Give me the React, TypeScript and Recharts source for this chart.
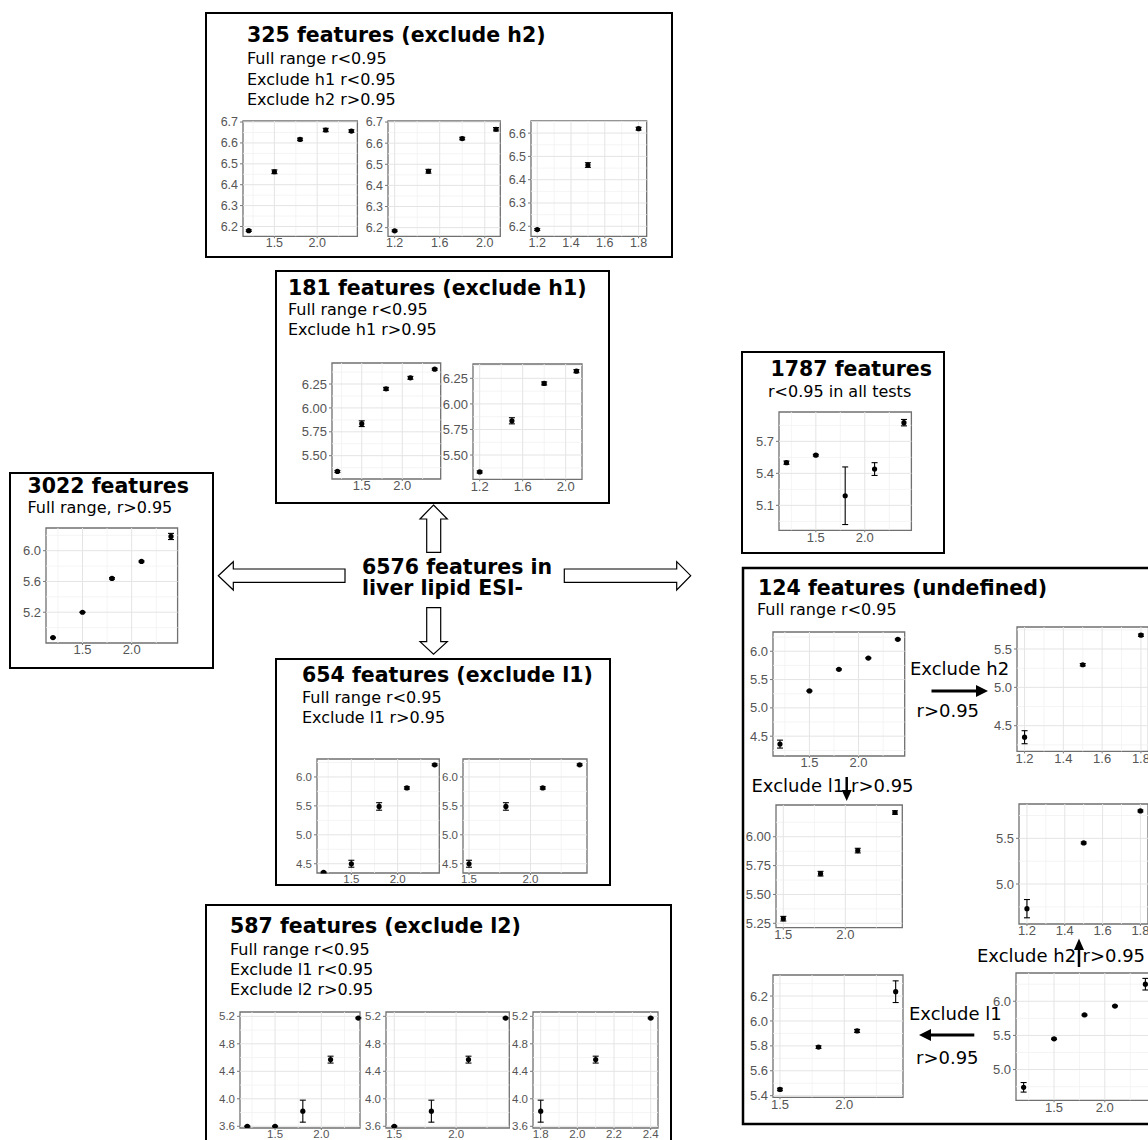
import {
  ScatterChart,
  Scatter,
  XAxis,
  YAxis,
  ErrorBar,
  ReferenceLine,
  ReferenceArea,
} from "recharts";

// dose levels (x) for each subset
const doseAll = [1.2, 1.5, 1.8, 2.1, 2.4];
const doseNoH1 = [1.2, 1.5, 1.8, 2.1];
const doseNoH2 = [1.2, 1.5, 1.8];
const doseNoL1 = [1.5, 1.8, 2.1, 2.4];
const doseNoL2 = [1.8, 2.1, 2.4];

// 325 features (exclude h2)
const h2Full = [6.18, 6.462, 6.617, 6.662, 6.657];
const h2FullErr = [0.004, 0.009, 0.006, 0.008, 0.006];
const h2NoH1 = [6.185, 6.467, 6.622, 6.666];
const h2NoH1Err = [0.004, 0.009, 0.006, 0.008];
const h2NoH2 = [6.186, 6.463, 6.619];
const h2NoH2Err = [0.004, 0.01, 0.006];

// 181 features (exclude h1)
const h1Full = [5.335, 5.835, 6.2, 6.315, 6.405];
const h1FullErr = [0.01, 0.03, 0.015, 0.015, 0.01];
const h1NoH1 = [5.335, 5.835, 6.2, 6.32];
const h1NoH1Err = [0.01, 0.03, 0.015, 0.015];

// 3022 features
const linFull = [4.87, 5.2, 5.64, 5.86, 6.185];
const linFullErr = [0.005, 0.005, 0.01, 0.008, 0.04];

// 1787 features
const nonFull = [5.5, 5.57, 5.19, 5.44, 5.875];
const nonFullErr = [0.015, 0.008, 0.27, 0.06, 0.03];

// 654 features (exclude l1)
const l1Full = [4.35, 4.5, 5.49, 5.81, 6.21];
const l1FullErr = [0.01, 0.06, 0.065, 0.02, 0.015];
const l1NoL1 = [4.5, 5.49, 5.81, 6.21];
const l1NoL1Err = [0.06, 0.065, 0.02, 0.015];

// 587 features (exclude l2)
const l2Full = [3.6, 3.6, 3.82, 4.57, 5.175];
const l2FullErr = [0.005, 0.005, 0.16, 0.05, 0.01];
const l2NoL1 = [3.6, 3.82, 4.57, 5.175];
const l2NoL1Err = [0.005, 0.16, 0.05, 0.01];
const l2NoL2 = [3.82, 4.57, 5.175];
const l2NoL2Err = [0.16, 0.05, 0.01];

// 124 features (undefined)
const undFull = [4.36, 5.3, 5.68, 5.88, 6.21];
const undFullErr = [0.07, 0.01, 0.01, 0.01, 0.01];
const undNoH2 = [4.35, 5.295, 5.68];
const undNoH2Err = [0.085, 0.015, 0.015];
const undNoL1 = [5.29, 5.68, 5.88, 6.21];
const undNoL1Err = [0.02, 0.02, 0.02, 0.015];
const und2Full = [4.74, 5.45, 5.8, 5.93, 6.25];
const und2FullErr = [0.07, 0.01, 0.01, 0.01, 0.085];
const und2NoH2 = [4.73, 5.45, 5.8];
const und2NoH2Err = [0.1, 0.01, 0.01];
const und2NoL1 = [5.45, 5.79, 5.92, 6.235];
const und2NoL1Err = [0.01, 0.01, 0.012, 0.087];

// tick labels
const xt15 = [1.5, 2.0];
const xt12to20 = [1.2, 1.6, 2.0];
const xt12to18 = [1.2, 1.4, 1.6, 1.8];
const xt18to24 = [1.8, 2.0, 2.2, 2.4];
const yt62to67 = [6.2, 6.3, 6.4, 6.5, 6.6, 6.7];
const yt62to66 = [6.2, 6.3, 6.4, 6.5, 6.6];
const yt550to625 = [5.5, 5.75, 6.0, 6.25];
const yt52to60 = [5.2, 5.6, 6.0];
const yt51to57 = [5.1, 5.4, 5.7];
const yt45to60 = [4.5, 5.0, 5.5, 6.0];
const yt36to52 = [3.6, 4.0, 4.4, 4.8, 5.2];
const yt45to55 = [4.5, 5.0, 5.5];
const yt525to600 = [5.25, 5.5, 5.75, 6.0];
const yt50to55 = [5.0, 5.5];
const yt50to60 = [5.0, 5.5, 6.0];
const yt54to62 = [5.4, 5.6, 5.8, 6.0, 6.2];

const YW = 34;
const MT = 10;
const MR = 4;
const XH = 18;
const tickFont = "Liberation Sans, Arial, sans-serif";

function minorOf(ticks: number[], domain: number[]) {
  const step = ticks[1] - ticks[0];
  const out: number[] = [];
  for (let v = ticks[0] - step * 1.5; v <= domain[1]; v += step) {
    if (v >= domain[0]) out.push(+v.toFixed(4));
  }
  return out;
}

const dot = (p: any) => <circle cx={p.cx} cy={p.cy} r={2.6} fill="#000" />;

type PlotProps = {
  left: number;
  top: number;
  w: number;
  h: number;
  xs: number[];
  ys: number[];
  es: number[];
  xDomain: number[];
  yDomain: number[];
  xTicks: number[];
  yTicks: number[];
  yDigits?: number;
  fs?: number;
};

function MiniPlot({
  left,
  top,
  w,
  h,
  xs,
  ys,
  es,
  xDomain,
  yDomain,
  xTicks,
  yTicks,
  yDigits = 1,
  fs = 12.5,
}: PlotProps) {
  const rows = xs.map((x, i) => ({ x, y: ys[i], e: es[i] }));
  const minorX = minorOf(xTicks, xDomain);
  const minorY = minorOf(yTicks, yDomain);
  const tick = { fontSize: fs, fill: "#555", fontFamily: tickFont };
  return (
    <div style={{ position: "absolute", left: left - YW, top: top - MT }}>
      <ScatterChart
        width={YW + w + MR}
        height={MT + h + XH}
        margin={{ top: MT, right: MR, bottom: 0, left: 0 }}
      >
        {minorX.map((v) => (
          <ReferenceLine key={"mx" + v} x={v} stroke="#f1f1f1" strokeWidth={0.8} />
        ))}
        {minorY.map((v) => (
          <ReferenceLine key={"my" + v} y={v} stroke="#f1f1f1" strokeWidth={0.8} />
        ))}
        {xTicks.map((v) => (
          <ReferenceLine key={"x" + v} x={v} stroke="#e4e4e4" strokeWidth={1} />
        ))}
        {yTicks.map((v) => (
          <ReferenceLine key={"y" + v} y={v} stroke="#e4e4e4" strokeWidth={1} />
        ))}
        <XAxis
          type="number"
          dataKey="x"
          domain={xDomain}
          ticks={xTicks}
          allowDataOverflow
          interval={0}
          height={XH}
          tickSize={2}
          tickMargin={0}
          axisLine={false}
          tickLine={{ stroke: "#777" }}
          tick={tick}
          tickFormatter={(v: number) => v.toFixed(1)}
        />
        <YAxis
          type="number"
          dataKey="y"
          domain={yDomain}
          ticks={yTicks}
          allowDataOverflow
          interval={0}
          width={YW}
          tickSize={3}
          tickMargin={2}
          axisLine={false}
          tickLine={{ stroke: "#777" }}
          tick={tick}
          tickFormatter={(v: number) => v.toFixed(yDigits)}
        />
        <ReferenceArea
          x1={xDomain[0]}
          x2={xDomain[1]}
          y1={yDomain[0]}
          y2={yDomain[1]}
          fill="none"
          fillOpacity={0}
          stroke="#707070"
          strokeWidth={1.3}
          ifOverflow="visible"
        />
        <Scatter data={rows} isAnimationActive={false} shape={dot}>
          <ErrorBar
            dataKey="e"
            direction="y"
            width={3}
            stroke="#000"
            strokeWidth={1.1}
            isAnimationActive={false}
          />
        </Scatter>
      </ScatterChart>
    </div>
  );
}

const TITLE = { fontFamily: "DejaVu Sans, Verdana, sans-serif", fontWeight: 700, fontSize: 20.5 };
const SUB = { fontFamily: "DejaVu Sans, Verdana, sans-serif", fontSize: 16 };
const NOTE = { fontFamily: "DejaVu Sans, Verdana, sans-serif", fontSize: 18 };

function Overlay() {
  const box = { fill: "none", stroke: "#000", strokeWidth: 2 };
  const hollow = { fill: "#fff", stroke: "#000", strokeWidth: 1.2 };
  return (
    <svg width={1148} height={1140} style={{ position: "absolute", left: 0, top: 0 }}>
      <rect x={206} y={13} width={466} height={244} {...box} />
      <rect x={276} y={271} width={333} height={232} {...box} />
      <rect x={10} y={473} width={203} height={195} {...box} />
      <rect x={742} y={352} width={202} height={201} {...box} />
      <rect x={276} y={659} width={334} height={226} {...box} />
      <rect x={206} y={905} width={465} height={240} {...box} />
      <rect x={743} y={568} width={420} height={556} {...box} strokeWidth={2.5} />

      <text x={247} y={41.5} style={TITLE}>325 features (exclude h2)</text>
      <text x={247} y={64} style={SUB}>Full range r&lt;0.95</text>
      <text x={247} y={84.5} style={SUB}>Exclude h1 r&lt;0.95</text>
      <text x={247} y={105} style={SUB}>Exclude h2 r&gt;0.95</text>

      <text x={288} y={295} style={TITLE}>181 features (exclude h1)</text>
      <text x={288} y={315} style={SUB}>Full range r&lt;0.95</text>
      <text x={288} y={335} style={SUB}>Exclude h1 r&gt;0.95</text>

      <text x={27.5} y={493} style={TITLE}>3022 features</text>
      <text x={27.5} y={513} style={SUB}>Full range, r&gt;0.95</text>

      <text x={770.5} y={376} style={TITLE}>1787 features</text>
      <text x={768} y={396.5} style={SUB}>r&lt;0.95 in all tests</text>

      <text x={302} y={681.5} style={TITLE}>654 features (exclude l1)</text>
      <text x={302} y={702.5} style={SUB}>Full range r&lt;0.95</text>
      <text x={302} y={722.5} style={SUB}>Exclude l1 r&gt;0.95</text>

      <text x={230} y={933} style={TITLE}>587 features (exclude l2)</text>
      <text x={230} y={955} style={SUB}>Full range r&lt;0.95</text>
      <text x={230} y={975} style={SUB}>Exclude l1 r&lt;0.95</text>
      <text x={230} y={995} style={SUB}>Exclude l2 r&gt;0.95</text>

      <text x={758} y={595} style={TITLE}>124 features (undefined)</text>
      <text x={757} y={615} style={SUB}>Full range r&lt;0.95</text>

      <text x={362} y={573.5} style={TITLE}>6576 features in</text>
      <text x={362} y={595} style={TITLE}>liver lipid ESI-</text>

      {/* hollow arrows from the centre */}
      <polygon
        points="433.5,505 447.3,519 440.7,519 440.7,552.3 426.7,552.3 426.7,519 420,519"
        {...hollow}
      />
      <polygon
        points="426.7,607.7 440.7,607.7 440.7,641.7 447.3,641.7 433.5,654.3 420,641.7 426.7,641.7"
        {...hollow}
      />
      <polygon
        points="218.3,575.7 233.3,561.7 233.3,569 345,569 345,582.3 233.3,582.3 233.3,590"
        {...hollow}
      />
      <polygon
        points="564.3,569 676.7,569 676.7,561.7 690.7,575.7 676.7,590 676.7,582.3 564.3,582.3"
        {...hollow}
      />

      {/* step annotations in the undefined box */}
      <text x={910} y={675} style={NOTE}>Exclude h2</text>
      <line x1={931.5} y1={691} x2={978} y2={691} stroke="#000" strokeWidth={3} />
      <polygon points="976,685 988,691 976,697" fill="#000" />
      <text x={916.5} y={716.5} style={NOTE}>r&gt;0.95</text>

      <text x={751.5} y={791.5} style={NOTE}>Exclude l1</text>
      <line x1={846.7} y1={777} x2={846.7} y2={792} stroke="#000" strokeWidth={2.5} />
      <polygon points="841.7,790 851.7,790 846.7,801" fill="#000" />
      <text x={851} y={791.5} style={NOTE}>r&gt;0.95</text>

      <text x={977} y={961.5} style={NOTE}>Exclude h2</text>
      <line x1={1079} y1={967} x2={1079} y2={948} stroke="#000" strokeWidth={2.5} />
      <polygon points="1074,950 1084,950 1079,938.5" fill="#000" />
      <text x={1082.5} y={961.5} style={NOTE}>r&gt;0.95</text>

      <text x={909} y={1020} style={NOTE}>Exclude l1</text>
      <line x1={974.3} y1={1035} x2={930} y2={1035} stroke="#000" strokeWidth={3} />
      <polygon points="931,1029 931,1041 919,1035" fill="#000" />
      <text x={916} y={1063.5} style={NOTE}>r&gt;0.95</text>
    </svg>
  );
}

export default function App() {
  return (
    <div
      style={{
        position: "absolute",
        left: 0,
        top: 0,
        width: 1148,
        height: 1140,
        overflow: "hidden",
        background: "#fff",
      }}
    >
      <Overlay />

      {/* 325 features */}
      <MiniPlot left={243.3} top={120.7} w={114.4} h={115.3} xs={doseAll} ys={h2Full} es={h2FullErr}
        xDomain={[1.133, 2.47]} yDomain={[6.153, 6.705]} xTicks={xt15} yTicks={yt62to67} fs={12.5} />
      <MiniPlot left={387.7} top={120.7} w={112.3} h={115.3} xs={doseNoH1} ys={h2NoH1} es={h2NoH1Err}
        xDomain={[1.141, 2.138]} yDomain={[6.159, 6.705]} xTicks={xt12to20} yTicks={yt62to67} fs={12.5} />
      <MiniPlot left={531} top={120.7} w={115.7} h={115.3} xs={doseNoH2} ys={h2NoH2} es={h2NoH2Err}
        xDomain={[1.163, 1.848]} yDomain={[6.157, 6.652]} xTicks={xt12to18} yTicks={yt62to66} fs={12.5} />

      {/* 181 features */}
      <MiniPlot left={332.3} top={363.3} w={108.7} h={116} xs={doseAll} ys={h1Full} es={h1FullErr}
        xDomain={[1.133, 2.474]} yDomain={[5.256, 6.47]} xTicks={xt15} yTicks={yt550to625} yDigits={2} fs={13} />
      <MiniPlot left={473.3} top={364} w={109} h={115.3} xs={doseNoH1} ys={h1NoH1} es={h1NoH1Err}
        xDomain={[1.138, 2.152]} yDomain={[5.263, 6.39]} xTicks={xt12to20} yTicks={yt550to625} yDigits={2} fs={13} />

      {/* 3022 features */}
      <MiniPlot left={45.7} top={528.3} w={131.6} h={115} xs={doseAll} ys={linFull} es={linFullErr}
        xDomain={[1.129, 2.467]} yDomain={[4.8, 6.295]} xTicks={xt15} yTicks={yt52to60} fs={13} />

      {/* 1787 features */}
      <MiniPlot left={779.3} top={411.7} w={132.4} h={118.3} xs={doseAll} ys={nonFull} es={nonFullErr}
        xDomain={[1.124, 2.476]} yDomain={[4.866, 5.975]} xTicks={xt15} yTicks={yt51to57} fs={13} />

      {/* 654 features */}
      <MiniPlot left={316.7} top={759.3} w={122.3} h={114} xs={doseAll} ys={l1Full} es={l1FullErr}
        xDomain={[1.129, 2.45]} yDomain={[4.34, 6.31]} xTicks={xt15} yTicks={yt45to60} fs={11.5} />
      <MiniPlot left={463.3} top={759.3} w={124} h={114} xs={doseNoL1} ys={l1NoL1} es={l1NoL1Err}
        xDomain={[1.451, 2.46]} yDomain={[4.34, 6.31]} xTicks={xt15} yTicks={yt45to60} fs={11.5} />

      {/* 587 features */}
      <MiniPlot left={240} top={1011.7} w={120} h={116} xs={doseAll} ys={l2Full} es={l2FullErr}
        xDomain={[1.121, 2.418]} yDomain={[3.575, 5.263]} xTicks={xt15} yTicks={yt36to52} fs={11.5} />
      <MiniPlot left={385.7} top={1011.7} w={123.3} h={116} xs={doseNoL1} ys={l2NoL1} es={l2NoL1Err}
        xDomain={[1.433, 2.43]} yDomain={[3.575, 5.263]} xTicks={xt15} yTicks={yt36to52} fs={11.5} />
      <MiniPlot left={533.3} top={1011.7} w={125} h={116} xs={doseNoL2} ys={l2NoL2} es={l2NoL2Err}
        xDomain={[1.758, 2.44]} yDomain={[3.575, 5.263]} xTicks={xt18to24} yTicks={yt36to52} fs={11.5} />

      {/* 124 features (undefined) */}
      <MiniPlot left={773.3} top={631.7} w={131.7} h={124} xs={doseAll} ys={undFull} es={undFullErr}
        xDomain={[1.129, 2.47]} yDomain={[4.15, 6.34]} xTicks={xt15} yTicks={yt45to60} fs={13} />
      <MiniPlot left={1016.7} top={627.3} w={131.5} h={124.4} xs={doseNoH2} ys={undNoH2} es={undNoH2Err}
        xDomain={[1.161, 1.839]} yDomain={[4.165, 5.787]} xTicks={xt12to18} yTicks={yt45to55} fs={13} />
      <MiniPlot left={776} top={805} w={126.3} h={122.7} xs={doseNoL1} ys={undNoL1} es={undNoL1Err}
        xDomain={[1.441, 2.459]} yDomain={[5.212, 6.275]} xTicks={xt15} yTicks={yt525to600} yDigits={2} fs={13} />
      <MiniPlot left={1019.3} top={804} w={129} h={120} xs={doseNoH2} ys={und2NoH2} es={und2NoH2Err}
        xDomain={[1.158, 1.84]} yDomain={[4.562, 5.876]} xTicks={xt12to18} yTicks={yt50to55} fs={13} />
      <MiniPlot left={1015.7} top={972.7} w={137} h={127.3} xs={doseAll} ys={und2Full} es={und2FullErr}
        xDomain={[1.125, 2.475]} yDomain={[4.55, 6.414]} xTicks={xt15} yTicks={yt50to60} fs={13} />
      <MiniPlot left={773.3} top={975} w={130} h={122.3} xs={doseNoL1} ys={und2NoL1} es={und2NoL1Err}
        xDomain={[1.446, 2.457]} yDomain={[5.387, 6.369]} xTicks={xt15} yTicks={yt54to62} fs={13} />
    </div>
  );
}
